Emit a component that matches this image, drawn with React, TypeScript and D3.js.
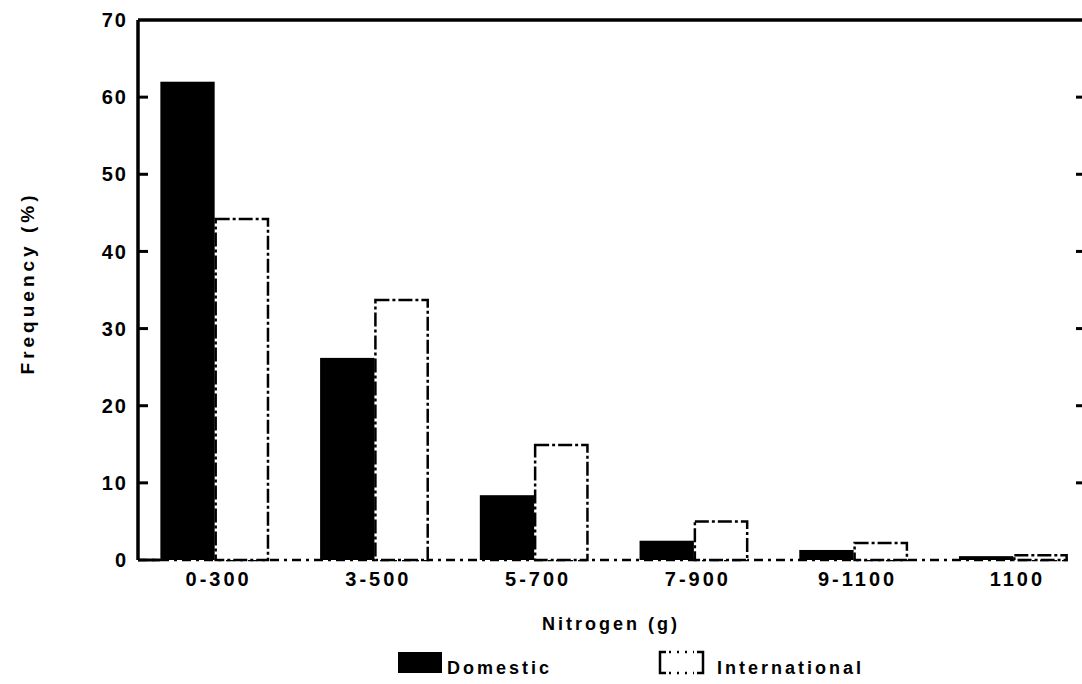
import React from "react";
import * as d3 from "d3";

const categories = ["0-300", "3-500", "5-700", "7-900", "9-1100", "1100"];
const domestic = [62.0, 26.2, 8.4, 2.5, 1.3, 0.5];
const international = [44.2, 33.7, 14.9, 5.0, 2.2, 0.6];
const yTicks = [0, 10, 20, 30, 40, 50, 60, 70];

const W = 1082;
const H = 684;
const left = 138;
const top = 20;
const bottom = 560;
const right = 1082;
const font = "'Liberation Sans', Arial, Helvetica, sans-serif";

export default function App() {
  const y = d3.scaleLinear().domain([0, 70]).range([bottom, top]);
  const x = d3
    .scaleBand<string>()
    .domain(categories)
    .range([left, 1090])
    .paddingInner(0.32)
    .paddingOuter(0.14);
  const bw = x.bandwidth() / 2;
  const lastEnd = (x(categories[categories.length - 1]) as number) + x.bandwidth();

  return (
    <svg
      width={W}
      height={H}
      viewBox={`0 0 ${W} ${H}`}
      style={{ position: "absolute", left: 0, top: 0, background: "#fff" }}
    >
      <rect x={0} y={0} width={W} height={H} fill="#fff" />
      {/* baseline */}
      <line
        x1={left}
        x2={lastEnd}
        y1={bottom}
        y2={bottom}
        stroke="#000"
        strokeWidth={2.5}
        strokeDasharray="9,5,3,5"
      />
      {/* bars */}
      {categories.map((c, i) => {
        const x0 = x(c) as number;
        return (
          <g key={c}>
            <rect
              x={x0}
              y={y(domestic[i])}
              width={bw}
              height={bottom - y(domestic[i])}
              fill="#000"
            />
            <rect
              x={x0 + bw + 1}
              y={y(international[i])}
              width={bw - 2}
              height={Math.max(0, bottom - y(international[i]))}
              fill="#fff"
              stroke="#000"
              strokeWidth={2.5}
              strokeDasharray="14,3,3,3"
            />
          </g>
        );
      })}
      {/* frame */}
      <line x1={left} x2={left} y1={top} y2={bottom} stroke="#000" strokeWidth={3.5} />
      <line x1={left} x2={right + 2} y1={top} y2={top} stroke="#000" strokeWidth={3.5} />
      <line x1={left} x2={left + 22} y1={bottom} y2={bottom} stroke="#000" strokeWidth={3} />
      {/* y ticks */}
      {yTicks.map((t) => (
        <g key={t}>
          {t > 0 && t < 70 && (
            <>
              <line x1={left} x2={left + 10} y1={y(t)} y2={y(t)} stroke="#000" strokeWidth={3} />
              <line x1={right - 6} x2={right} y1={y(t)} y2={y(t)} stroke="#000" strokeWidth={3} />
            </>
          )}
          <text
            x={128}
            y={y(t)}
            dy="0.36em"
            textAnchor="end"
            fontFamily={font}
            fontWeight="bold"
            fontSize={20}
            letterSpacing={2}
            fill="#000"
          >
            {t}
          </text>
        </g>
      ))}
      {/* x labels */}
      {categories.map((c) => (
        <text
          key={c}
          x={(x(c) as number) + x.bandwidth() / 2 + 4}
          y={586}
          textAnchor="middle"
          fontFamily={font}
          fontWeight="bold"
          fontSize={20}
          letterSpacing={3}
          fill="#000"
        >
          {c}
        </text>
      ))}
      {/* axis titles */}
      <text
        x={611}
        y={630}
        textAnchor="middle"
        fontFamily={font}
        fontWeight="bold"
        fontSize={18}
        letterSpacing={3}
        fill="#000"
      >
        Nitrogen (g)
      </text>
      <text
        transform={`translate(34,283) rotate(-90)`}
        textAnchor="middle"
        fontFamily={font}
        fontWeight="bold"
        fontSize={19}
        letterSpacing={4}
        fill="#000"
      >
        Frequency (%)
      </text>
      {/* legend */}
      <rect x={398} y={652} width={44} height={21} fill="#000" />
      <text x={447} y={674} fontFamily={font} fontWeight="bold" fontSize={18} letterSpacing={3} fill="#000">
        Domestic
      </text>
      <g stroke="#000" strokeWidth={2.5} fill="none">
        <path d="M666,652 L660,652 L660,673 L666,673" />
        <path d="M697,652 L703,652 L703,673 L697,673" />
        <line x1={669} x2={694} y1={652} y2={652} strokeDasharray="2,6" />
        <line x1={669} x2={694} y1={673} y2={673} strokeDasharray="2,6" />
      </g>
      <text x={717} y={674} fontFamily={font} fontWeight="bold" fontSize={18} letterSpacing={3} fill="#000">
        International
      </text>
    </svg>
  );
}
